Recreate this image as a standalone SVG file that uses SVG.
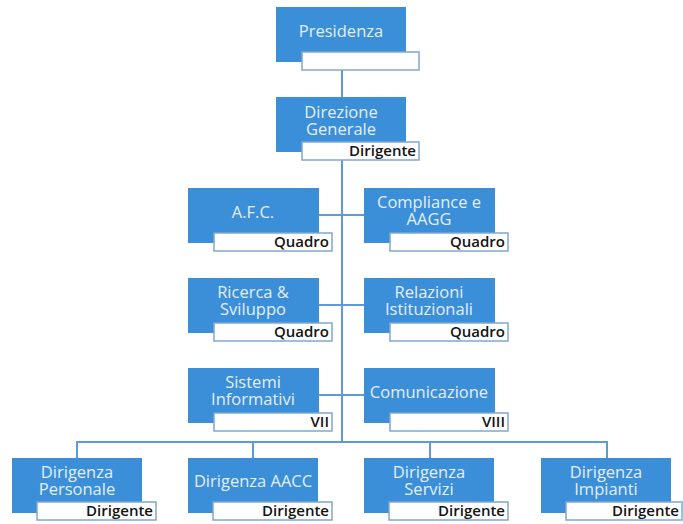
<svg xmlns="http://www.w3.org/2000/svg" width="683" height="524" viewBox="0 0 683 524">
  <style>
    .box { fill: #3b8ed8; }
    .tag { fill: #ffffff; stroke: #7fa8d2; stroke-width: 1.5; }
    .lbl { font-family: "Open Sans", "Liberation Sans", sans-serif; font-size: 16.5px; fill: #e4effa; text-anchor: middle; }
    .lvl { font-family: "Open Sans", "Liberation Sans", sans-serif; font-size: 15px; font-weight: 600; fill: #141414; text-anchor: end; }
    .wire { fill: none; stroke: #5d9bd6; stroke-width: 2; }
  </style>
  <rect width="683" height="524" fill="#ffffff"/>

  <!-- connectors -->
  <g id="connectors">
    <path class="wire" d="M342,62 V442"/>
    <path class="wire" d="M319,215 H364"/>
    <path class="wire" d="M319,305 H364"/>
    <path class="wire" d="M319,395 H364"/>
    <path class="wire" d="M77,458 V442 H607 V458"/>
    <path class="wire" d="M253,442 V458"/>
    <path class="wire" d="M430,442 V458"/>
  </g>

  <g id="presidenza">
    <rect class="box" x="276" y="7" width="130" height="55"/>
    <rect class="tag" x="302" y="52" width="117" height="18"/>
    <text class="lbl" x="341" y="37">Presidenza</text>
  </g>

  <g id="direzione-generale">
    <rect class="box" x="276" y="97" width="130" height="55"/>
    <rect class="tag" x="302" y="142" width="117" height="18"/>
    <text class="lbl" x="341" y="118">Direzione</text>
    <text class="lbl" x="341" y="135">Generale</text>
    <text class="lvl" x="416" y="156">Dirigente</text>
  </g>

  <g id="afc">
    <rect class="box" x="188" y="188" width="131" height="55"/>
    <rect class="tag" x="214" y="233" width="118" height="18"/>
    <text class="lbl" x="253" y="218">A.F.C.</text>
    <text class="lvl" x="329" y="247">Quadro</text>
  </g>

  <g id="compliance">
    <rect class="box" x="364" y="188" width="131" height="55"/>
    <rect class="tag" x="390" y="233" width="118" height="18"/>
    <text class="lbl" x="429" y="208">Compliance e</text>
    <text class="lbl" x="429" y="225">AAGG</text>
    <text class="lvl" x="505" y="247">Quadro</text>
  </g>

  <g id="ricerca-sviluppo">
    <rect class="box" x="188" y="278" width="131" height="55"/>
    <rect class="tag" x="214" y="323" width="118" height="18"/>
    <text class="lbl" x="253" y="298">Ricerca &amp;</text>
    <text class="lbl" x="253" y="315">Sviluppo</text>
    <text class="lvl" x="329" y="337">Quadro</text>
  </g>

  <g id="relazioni-istituzionali">
    <rect class="box" x="364" y="278" width="131" height="55"/>
    <rect class="tag" x="390" y="323" width="118" height="18"/>
    <text class="lbl" x="429" y="298">Relazioni</text>
    <text class="lbl" x="429" y="315">Istituzionali</text>
    <text class="lvl" x="505" y="337">Quadro</text>
  </g>

  <g id="sistemi-informativi">
    <rect class="box" x="188" y="368" width="131" height="55"/>
    <rect class="tag" x="214" y="413" width="118" height="18"/>
    <text class="lbl" x="253" y="388">Sistemi</text>
    <text class="lbl" x="253" y="405">Informativi</text>
    <text class="lvl" x="329" y="427">VII</text>
  </g>

  <g id="comunicazione">
    <rect class="box" x="364" y="368" width="131" height="55"/>
    <rect class="tag" x="390" y="413" width="118" height="18"/>
    <text class="lbl" x="429" y="398">Comunicazione</text>
    <text class="lvl" x="505" y="427">VIII</text>
  </g>

  <g id="dirigenza-personale">
    <rect class="box" x="12" y="458" width="130" height="55"/>
    <rect class="tag" x="37" y="502" width="119" height="18"/>
    <text class="lbl" x="77" y="478">Dirigenza</text>
    <text class="lbl" x="77" y="495">Personale</text>
    <text class="lvl" x="153" y="516">Dirigente</text>
  </g>

  <g id="dirigenza-aacc">
    <rect class="box" x="188" y="458" width="130" height="55"/>
    <rect class="tag" x="213" y="502" width="119" height="18"/>
    <text class="lbl" x="253" y="487">Dirigenza AACC</text>
    <text class="lvl" x="329" y="516">Dirigente</text>
  </g>

  <g id="dirigenza-servizi">
    <rect class="box" x="364" y="458" width="130" height="55"/>
    <rect class="tag" x="389" y="502" width="119" height="18"/>
    <text class="lbl" x="429" y="478">Dirigenza</text>
    <text class="lbl" x="429" y="495">Servizi</text>
    <text class="lvl" x="505" y="516">Dirigente</text>
  </g>

  <g id="dirigenza-impianti">
    <rect class="box" x="541" y="458" width="130" height="55"/>
    <rect class="tag" x="566" y="502" width="116" height="18"/>
    <text class="lbl" x="606" y="478">Dirigenza</text>
    <text class="lbl" x="606" y="495">Impianti</text>
    <text class="lvl" x="679" y="516">Dirigente</text>
  </g>
</svg>
